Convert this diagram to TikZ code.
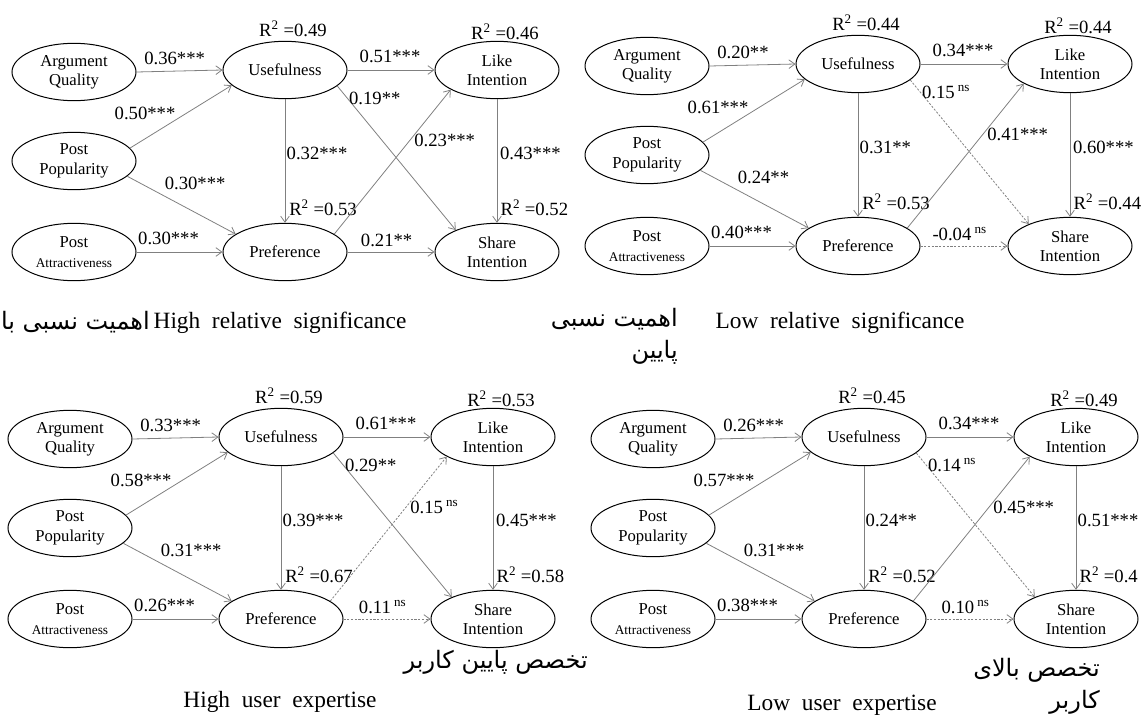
\documentclass[tikz,border=0pt]{standalone}
\usepackage{fontspec}
\setmainfont{Liberation Serif}
\newfontfamily\farsi[Script=Arabic]{DejaVu Sans}
\TeXXeTstate=1
\usetikzlibrary{shapes,arrows.meta}

\newcommand{\Rsq}[1]{R\textsuperscript{2} =#1}
\newcommand{\nsig}[1]{#1\,\textsuperscript{ns}}
% the seven constructs, same place in every model; args = R^2 of use, like, pref, share
\newcommand{\semnodes}[4]{%
\node[construct] (aq) at (74,72) {Argument\\Quality};
\node[construct] (pp) at (74,161) {Post\\Popularity};
\node[construct] (pa) at (74,252) {Post\\{\fontsize{10}{12}\selectfont Attractiveness}};
\node[construct] (use) at (285,70) {Usefulness};
\node[construct] (pref) at (285,252) {Preference};
\node[construct] (like) at (497,70) {Like\\Intention};
\node[construct] (share) at (497,252) {Share\\Intention};
\node[coef] (r-use) at ([xshift=6pt,yshift=9pt]use.north) {\Rsq{#1}};
\node[coef] (r-like) at ([xshift=6pt,yshift=7pt]like.north) {\Rsq{#2}};
\node[coef,anchor=west] (r-pref) at ([xshift=2pt,yshift=11.5pt]pref.north) {\Rsq{#3}};
\node[coef,anchor=west] (r-share) at ([xshift=1.5pt,yshift=11.5pt]share.north) {\Rsq{#4}};
}

\begin{document}
\begin{tikzpicture}[x=0.75pt,y=-0.75pt]
\tikzstyle{construct}=[draw,ellipse,line width=0.75pt,minimum width=93pt,minimum height=43pt,inner sep=0pt,align=center,font=\fontsize{12.5}{14.5}\selectfont]
\tikzstyle{coef}=[font=\fontsize{14}{14}\selectfont,inner sep=1pt]
\tikzstyle{arr}=[draw=black!50,line width=0.6pt,-{Straight Barb[length=4.5pt,width=6.5pt]}]
\tikzstyle{nsarr}=[arr,dash pattern=on 1.6pt off 1.2pt]
\tikzstyle{caption}=[font=\fontsize{17.5}{17.5}\selectfont,inner sep=0pt]
\tikzstyle{fa}=[font={\farsi\fontsize{18}{24}\selectfont},align=right,inner sep=0pt]
\useasboundingbox (0,0) rectangle (1142,717);

% high relative significance
\begin{scope}[name prefix=hs-]
\semnodes{0.49}{0.46}{0.53}{0.52}
\draw[arr] (aq.east) -- node[coef,pos=0.07,anchor=west,yshift=10pt]{0.36***} (use.west);
\draw[arr] (pp.13) -- node[coef,pos=0.45,anchor=south east,inner sep=0pt]{0.50***} (use.196);
\draw[arr] (pp.344) -- node[coef,pos=0.33,anchor=south west,yshift=3pt]{0.30***} (pref.160);
\draw[arr] (pa.east) -- node[coef,pos=0,anchor=west,yshift=10.5pt]{0.30***} (pref.west);
\draw[arr] (use.east) -- node[coef,pos=0.12,anchor=west,yshift=10pt]{0.51***} (like.west);
\draw[arr] (use) -- node[coef,pos=0.44,anchor=west]{0.32***} (pref);
\draw[arr] (use.343) -- node[coef,pos=0.085,anchor=west]{0.19**} (share.152);
\draw[arr] (pref.20) -- node[coef,pos=0.65,anchor=west,xshift=2pt]{0.23***} (like.203);
\draw[arr] (like) -- node[coef,pos=0.44,anchor=west,xshift=1pt]{0.43***} (share);
\draw[arr] (pref.east) -- node[coef,pos=0.45,yshift=9pt]{0.21**} (share.west);
\end{scope}

% low relative significance
\begin{scope}[shift={(573,-6)},name prefix=ls-]
\semnodes{0.44}{0.44}{0.53}{0.44}
\draw[arr] (aq.east) -- node[coef,pos=0.07,anchor=west,yshift=10pt]{0.20**} (use.west);
\draw[arr] (pp.13) -- node[coef,pos=0.45,anchor=south east,inner sep=0pt]{0.61***} (use.196);
\draw[arr] (pp.344) -- node[coef,pos=0.33,anchor=south west,yshift=3pt]{0.24**} (pref.160);
\draw[arr] (pa.east) -- node[coef,pos=0,anchor=west,yshift=10.5pt]{0.40***} (pref.west);
\draw[arr] (use.east) -- node[coef,pos=0.12,anchor=west,yshift=10pt]{0.34***} (like.west);
\draw[arr] (use) -- node[coef,pos=0.44,anchor=west]{0.31**} (pref);
\draw[nsarr] (use.343) -- node[coef,pos=0.085,anchor=west]{\nsig{0.15}} (share.152);
\draw[arr] (pref.20) -- node[coef,pos=0.65,anchor=west,xshift=2pt]{0.41***} (like.203);
\draw[arr] (like) -- node[coef,pos=0.44,anchor=west,xshift=1pt]{0.60***} (share);
\draw[nsarr] (pref.east) -- node[coef,pos=0.45,yshift=9pt]{\nsig{-0.04}} (share.west);
\end{scope}

% high user expertise
\begin{scope}[shift={(-4,367)},name prefix=hu-]
\semnodes{0.59}{0.53}{0.67}{0.58}
\draw[arr] (aq.east) -- node[coef,pos=0.07,anchor=west,yshift=10pt]{0.33***} (use.west);
\draw[arr] (pp.13) -- node[coef,pos=0.45,anchor=south east,inner sep=0pt]{0.58***} (use.196);
\draw[arr] (pp.344) -- node[coef,pos=0.33,anchor=south west,yshift=3pt]{0.31***} (pref.160);
\draw[arr] (pa.east) -- node[coef,pos=0,anchor=west,yshift=10.5pt]{0.26***} (pref.west);
\draw[arr] (use.east) -- node[coef,pos=0.12,anchor=west,yshift=10pt]{0.61***} (like.west);
\draw[arr] (use) -- node[coef,pos=0.44,anchor=west]{0.39***} (pref);
\draw[arr] (use.343) -- node[coef,pos=0.085,anchor=west]{0.29**} (share.152);
\draw[nsarr] (pref.20) -- node[coef,pos=0.65,anchor=west,xshift=2pt]{\nsig{0.15}} (like.203);
\draw[arr] (like) -- node[coef,pos=0.44,anchor=west,xshift=1pt]{0.45***} (share);
\draw[nsarr] (pref.east) -- node[coef,pos=0.45,yshift=9pt]{\nsig{0.11}} (share.west);
\end{scope}

% low user expertise
\begin{scope}[shift={(579,367)},name prefix=lu-]
\semnodes{0.45}{0.49}{0.52}{0.4}
\draw[arr] (aq.east) -- node[coef,pos=0.07,anchor=west,yshift=10pt]{0.26***} (use.west);
\draw[arr] (pp.13) -- node[coef,pos=0.45,anchor=south east,inner sep=0pt]{0.57***} (use.196);
\draw[arr] (pp.344) -- node[coef,pos=0.33,anchor=south west,yshift=3pt]{0.31***} (pref.160);
\draw[arr] (pa.east) -- node[coef,pos=0,anchor=west,yshift=10.5pt]{0.38***} (pref.west);
\draw[arr] (use.east) -- node[coef,pos=0.12,anchor=west,yshift=10pt]{0.34***} (like.west);
\draw[arr] (use) -- node[coef,pos=0.44,anchor=west]{0.24**} (pref);
\draw[nsarr] (use.343) -- node[coef,pos=0.085,anchor=west]{\nsig{0.14}} (share.152);
\draw[arr] (pref.20) -- node[coef,pos=0.65,anchor=west,xshift=2pt]{0.45***} (like.203);
\draw[arr] (like) -- node[coef,pos=0.44,anchor=west]{0.51***} (share);
\draw[nsarr] (pref.east) -- node[coef,pos=0.45,yshift=9pt]{\nsig{0.10}} (share.west);
\end{scope}

\node[caption] (cap-hs) at (280,323) {High~ relative~ significance};
\node[caption] (cap-ls) at (840,323) {Low~ relative~ significance};
\node[caption] (cap-hu) at (280,702) {High~ user~ expertise};
\node[caption] (cap-lu) at (842,705) {Low~ user~ expertise};
\node[fa,anchor=east] (fa-hs) at (150,322) {\beginR اهمیت نسبی با\endR};
\node[fa,anchor=east] (fa-ls) at (678,336) {\beginR اهمیت نسبی\endR\\\beginR پایین\endR};
\node[fa,anchor=east] (fa-hu) at (588,662) {\beginR تخصص پایین کاربر\endR};
\node[fa,anchor=east] (fa-lu) at (1100,686) {\beginR تخصص بالای\endR\\\beginR کاربر\endR};
\end{tikzpicture}
\end{document}
